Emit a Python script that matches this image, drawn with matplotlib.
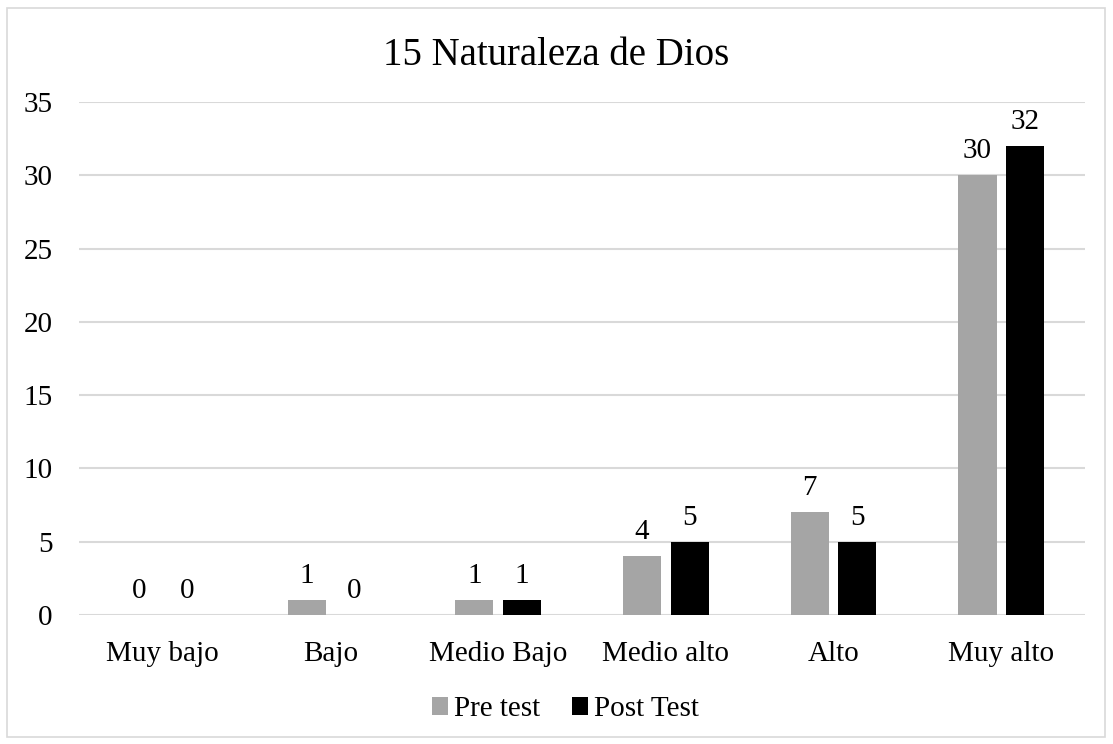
import matplotlib.pyplot as plt
import numpy as np
from matplotlib.patches import Rectangle

categorias = ['Muy bajo', 'Bajo', 'Medio Bajo', 'Medio alto', 'Alto', 'Muy alto']
pre_test = [0, 1, 1, 4, 7, 30]
post_test = [0, 0, 1, 5, 5, 32]
series = ['Pre test', 'Post Test']
yticks = [0, 5, 10, 15, 20, 25, 30, 35]

plt.rcParams['font.family'] = ['Liberation Serif', 'DejaVu Serif']

fig = plt.figure(figsize=(11.13, 7.44), dpi=100)
ax = fig.add_axes([0.071, 0.1734, 0.904, 0.6895])

# borde gris del grafico
fig.patches.append(Rectangle((7/1113, 7/744), 1098/1113, 729/744, transform=fig.transFigure,
                             fill=False, edgecolor='#D9D9D9', linewidth=1.2))

x = np.arange(len(categorias))
w = 0.227
b1 = ax.bar(x - 0.142, pre_test, w, color='#A5A5A5', label=series[0], zorder=3)
b2 = ax.bar(x + 0.142, post_test, w, color='#000000', label=series[1], zorder=3)

for bars in (b1, b2):
    ax.bar_label(bars, padding=8, fontsize=21)

ax.set_xlim(-0.5, len(categorias) - 0.5)
ax.set_ylim(0, 35)
ax.set_yticks(yticks)
ax.set_xticks(x)
ax.set_xticklabels(categorias)
ax.tick_params(axis='both', length=0, labelsize=21)
ax.tick_params(axis='y', pad=19)
ax.tick_params(axis='x', pad=19)
ax.grid(axis='y', color='#D9D9D9', linewidth=1.5, zorder=0)
for s in ax.spines.values():
    s.set_visible(False)

fig.text(0.5, 0.926, '15 Naturaleza de Dios', ha='center', va='center', fontsize=28)

fig.legend(loc='center', bbox_to_anchor=(0.508, 0.047), ncol=2, frameon=False, fontsize=21,
           handlelength=0.55, handleheight=0.55, handletextpad=0.2, columnspacing=1.1)

fig.savefig('out.png', dpi=100)
